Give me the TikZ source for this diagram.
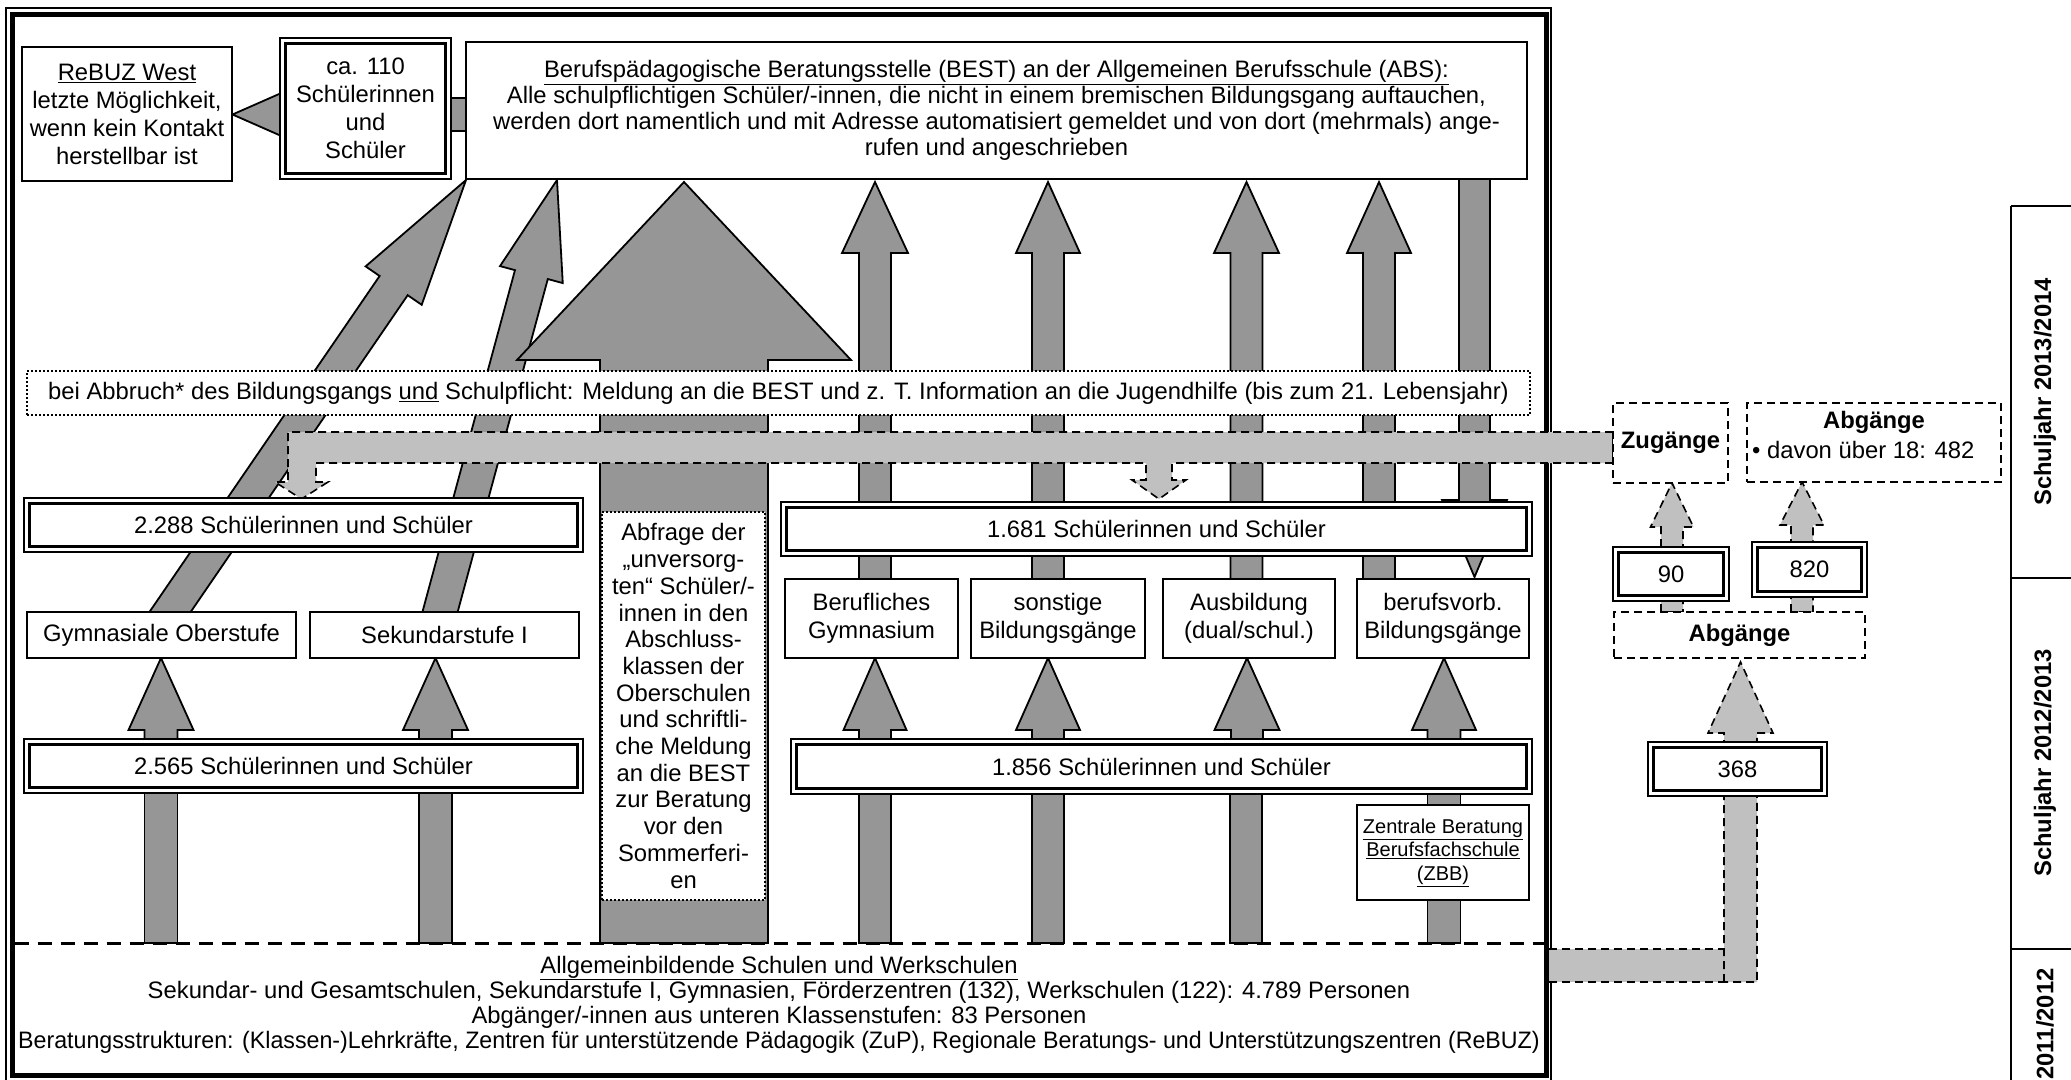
\documentclass[tikz,border=0pt]{standalone}
\usepackage{graphicx}
\usepackage{fontspec}
\setmainfont{Liberation Sans}
\usetikzlibrary{calc}
\definecolor{dkgray}{HTML}{969696}
\definecolor{ltgray}{HTML}{C0C0C0}
\newcommand\fs[2]{\fontsize{#1}{#2}\selectfont}
% block arrow: [style]{tail}{tip}{shaft half width}{head half width}{head length}
\newcommand\blkarrow[6][]{%
  \coordinate (hb) at ($(#3)!#6!(#2)$);
  \path[#1] ($(#2)!#4!90:(#3)$) -- ($(hb)!#4!90:(#3)$) -- ($(hb)!#5!90:(#3)$) -- (#3)
    -- ($(hb)!#5!-90:(#3)$) -- ($(hb)!#4!-90:(#3)$) -- ($(#2)!#4!-90:(#3)$) -- cycle;}
\newcommand\dblinner[1]{\draw[line width=2.8] ([shift={(5.5,5.5)}]#1.north west) rectangle ([shift={(-5.5,-5.5)}]#1.south east);}
\begin{document}
\begin{tikzpicture}[x=1pt,y=-1pt, font=\fs{23.8}{27},
  stdbox/.style={draw, line width=1.8, fill=white, inner sep=1, outer sep=0, align=center},
  dblbox/.style={draw, line width=1.3, fill=white, inner sep=1, outer sep=0, align=center},
  dotbox/.style={draw, line width=2.2, dash pattern=on 2pt off 2pt, fill=white, inner sep=1, outer sep=0, align=center},
  dashbox/.style={draw, line width=1.6, dash pattern=on 8pt off 5pt, fill=white, inner sep=1, outer sep=0, align=center},
  dkarrow/.style={fill=dkgray, draw=black, line width=1.8, line join=miter},
  ltarrow/.style={fill=ltgray, draw=black, line width=1.6, dash pattern=on 8pt off 5pt},
  baseline text/.style={anchor=base, inner sep=0},
  sidelabel/.style={rotate=90, font=\fs{23.8}{27}\bfseries}]
\useasboundingbox (0,0) rectangle (2071,1079);
\fill[white] (0,0) rectangle (2071,1079);

% main frame
\draw[line width=1.3] (6,8) rectangle (1551,1081);
\draw[line width=5] (12,14.5) rectangle (1546.5,1075.5);

% dark block arrows
\blkarrow[dkarrow]{466,114.5}{232.5,114.5}{16.5pt}{22pt}{50pt}
\blkarrow[dkarrow]{155.9,632.6}{466,180}{17pt}{34pt}{128pt}
\blkarrow[dkarrow]{433.5,636.1}{557,180}{17pt}{32.5pt}{98pt}
\blkarrow[dkarrow]{684,943}{684,182}{84pt}{167pt}{178pt}
\blkarrow[dkarrow]{875,590}{875,182}{16pt}{33pt}{71pt}
\blkarrow[dkarrow]{1048,590}{1048,182}{16pt}{32pt}{71pt}
\blkarrow[dkarrow]{1246.5,590}{1246.5,182}{16pt}{32.5pt}{71pt}
\blkarrow[dkarrow]{1379,590}{1379,182}{16pt}{32pt}{71pt}
\blkarrow[dkarrow]{1474.5,170}{1474.5,577}{15.5pt}{32.5pt}{77pt}
\blkarrow[dkarrow]{161,750}{161,658}{16.5pt}{32.5pt}{72pt}
\blkarrow[dkarrow]{435.5,750}{435.5,658}{16.5pt}{32.5pt}{72pt}
\blkarrow[dkarrow]{875,750}{875,658}{16pt}{31.5pt}{72pt}
\blkarrow[dkarrow]{1048,750}{1048,658}{16pt}{32pt}{72pt}
\blkarrow[dkarrow]{1247,750}{1247,658}{16pt}{32.5pt}{72pt}
\blkarrow[dkarrow]{1444,750}{1444,658}{16.5pt}{32pt}{72pt}
\foreach \a/\b in {144.5/177.5, 419/452, 859/891, 1032/1064, 1230/1262, 1427.5/1460.5}
  \path[dkarrow] (\a,780) rectangle (\b,943);

% dotted info line
\node[dotbox, minimum width=1503, minimum height=44] (abbr) at (778.5,393)
  {bei Abbruch* des Bildungsgangs \underline{und} Schulpflicht: Meldung an die BEST und z. T. Information an die Jugendhilfe (bis zum 21. Lebensjahr)};

% light band (Zugaenge)
\path[ltarrow] (1613,432) -- (288,432) -- (288,482) -- (275,482) -- (301.5,499) -- (328,482) -- (316,482)
  -- (316,463) -- (1146,463) -- (1146,480) -- (1132,480) -- (1159,499) -- (1186,480) -- (1172,480)
  -- (1172,463) -- (1613,463) -- cycle;

% top boxes
\node[stdbox, minimum width=210, minimum height=134, font=\fs{23.8}{28}] (rebuz) at (127,114)
  {\underline{ReBUZ West}\\letzte Möglichkeit,\\wenn kein Kontakt\\herstellbar ist};
\node[dblbox, minimum width=171, minimum height=141, font=\fs{23.8}{28}] (ca) at (365.5,108.5)
  {ca. 110\\Schülerinnen\\und\\Schüler};
\dblinner{ca}
\node[stdbox, minimum width=1061, minimum height=137, font=\fs{23.8}{26}] (best) at (996.5,110.5)
  {\underline{Berufspädagogische Beratungsstelle (BEST) an der Allgemeinen Berufsschule (ABS):}\\
   Alle schulpflichtigen Schüler/-innen, die nicht in einem bremischen Bildungsgang auftauchen,\\
   werden dort namentlich und mit Adresse automatisiert gemeldet und von dort (mehrmals) ange-\\
   rufen und angeschrieben};

% left column
\node[dblbox, minimum width=559, minimum height=54] (s2288) at (303.5,525) {2.288 Schülerinnen und Schüler};
\dblinner{s2288}
\node[stdbox, minimum width=269, minimum height=46] (gym) at (161.5,635) {Gymnasiale Oberstufe};
\node[stdbox, minimum width=269, minimum height=46] (sek) at (444.5,635) {Sekundarstufe I};
\node[dblbox, minimum width=559, minimum height=54] (s2565) at (303.5,766) {2.565 Schülerinnen und Schüler};
\dblinner{s2565}

% middle dotted box
\node[dotbox, minimum width=163, minimum height=388, font=\fs{23.8}{26.7}] (abfr) at (683.5,706)
  {Abfrage der\\„unversorg-\\ten“ Schüler/-\\innen in den\\Abschluss-\\klassen der\\Oberschulen\\und schriftli-\\che Meldung\\an die BEST\\zur Beratung\\vor den\\Sommerferi-\\en};

% right column
\node[dblbox, minimum width=751, minimum height=54] (s1681) at (1156.5,529) {1.681 Schülerinnen und Schüler};
\dblinner{s1681}
\node[stdbox, minimum width=173, minimum height=79, font=\fs{23.8}{28}] (bgym) at (871.5,618.5) {Berufliches\\Gymnasium};
\node[stdbox, minimum width=174, minimum height=79, font=\fs{23.8}{28}] (sonst) at (1058,618.5) {sonstige\\Bildungsgänge};
\node[stdbox, minimum width=172, minimum height=79, font=\fs{23.8}{28}] (ausb) at (1249,618.5) {Ausbildung\\(dual/schul.)};
\node[stdbox, minimum width=172, minimum height=79, font=\fs{23.8}{28}] (bvorb) at (1443,618.5) {berufsvorb.\\Bildungsgänge};
\node[dblbox, minimum width=741, minimum height=55] (s1856) at (1161.5,766.5) {1.856 Schülerinnen und Schüler};
\dblinner{s1856}
\node[stdbox, minimum width=172, minimum height=95, font=\fs{20}{23.5}] (zbb) at (1443,852.5)
  {\underline{Zentrale Beratung}\\\underline{Berufsfachschule}\\\underline{(ZBB)}};

% right side: light arrows
\fill[ltgray] (1549,949) rectangle (1724,982);
\blkarrow[ltarrow]{1740.5,982}{1740.5,662}{16.5pt}{32.5pt}{71pt}
\draw[line width=1.6, dash pattern=on 8pt off 5pt] (1549,949) -- (1724,949) (1549,982) -- (1724,982);
\blkarrow[ltarrow]{1672,612}{1672,483}{11pt}{21.5pt}{44pt}
\blkarrow[ltarrow]{1802,612}{1802,482}{11pt}{22pt}{43pt}

\node[dashbox, minimum width=115, minimum height=80] (zug) at (1670.5,443) {\textbf{Zugänge}};
\node[dashbox, minimum width=254, minimum height=79] (abgo) at (1874,442.5) {};
\node[baseline text, font=\fs{23.8}{27}\bfseries] (abgot) at (1874,428) {Abgänge};
\node[anchor=base west, inner sep=0] (abgob) at (1752,458) {• davon über 18: 482};
\node[dblbox, minimum width=116, minimum height=54] (n90) at (1671,574) {90};
\dblinner{n90}
\node[dblbox, minimum width=115, minimum height=55] (n820) at (1809.5,569.5) {820};
\dblinner{n820}
\node[dashbox, minimum width=251, minimum height=46] (abgu) at (1739.5,635) {\textbf{Abgänge}};
\node[dblbox, minimum width=179, minimum height=54] (n368) at (1737.5,769) {368};
\dblinner{n368}

% bottom
\draw[line width=3, dash pattern=on 14pt off 9pt] (14.5,943) -- (1544,943);
\node[baseline text] (allg1) at (779,973) {\underline{Allgemeinbildende Schulen und Werkschulen}};
\node[baseline text] (allg2) at (779,998) {Sekundar- und Gesamtschulen, Sekundarstufe I, Gymnasien, Förderzentren (132), Werkschulen (122): 4.789 Personen};
\node[baseline text] (allg3) at (779,1023) {Abgänger/-innen aus unteren Klassenstufen: 83 Personen};
\node[baseline text] (allg4) at (779,1048) {\scalebox{0.975}[1]{Beratungsstrukturen: (Klassen-)Lehrkräfte, Zentren für unterstützende Pädagogik (ZuP), Regionale Beratungs- und Unterstützungszentren (ReBUZ)}};

% school year panel
\draw[line width=2] (2011,206) -- (2011,1082) (2011,206) -- (2072,206) (2011,578) -- (2072,578) (2011,949) -- (2072,949);
\node[sidelabel] (sj14) at (2045,392) {Schuljahr 2013/2014};
\node[sidelabel] (sj13) at (2045,763) {Schuljahr 2012/2013};
\node[sidelabel] (sj12) at (2045,1024) {2011/2012};
\end{tikzpicture}
\end{document}
